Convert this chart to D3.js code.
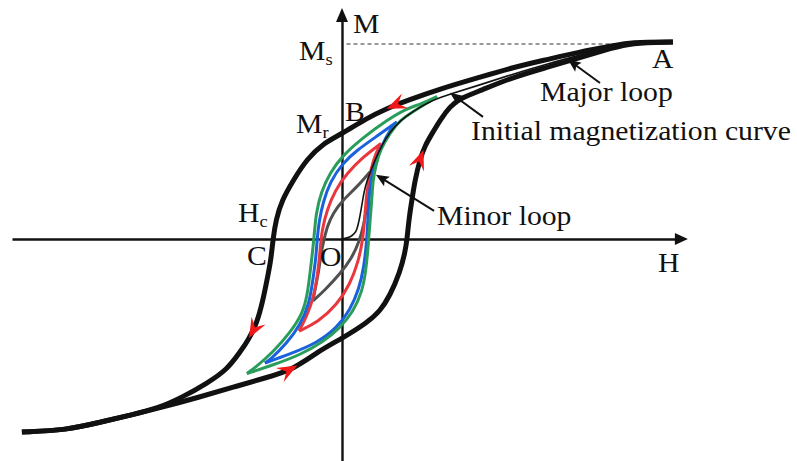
<!DOCTYPE html>
<html>
<head>
<meta charset="utf-8">
<script src="https://cdn.jsdelivr.net/npm/d3@7"></script>
<style>
  body { margin: 0; background: #fff; }
  svg { display: block; }
</style>
</head>
<body>
<svg id="chart" width="797" height="461"></svg>
<script>
// Field H in arbitrary units, magnetization M in units of the saturation value Ms.

// Major loop, descending branch (from A through B and C)
const majorDesc = [
  [11.03, 1.01], [9.6, 1.01], [9.03, 0.99], [7.93, 0.96], [6.83, 0.92], [5.7, 0.88],
  [4.6, 0.83], [3.27, 0.77], [2.17, 0.71], [1.5, 0.67], [0.83, 0.62], [0, 0.54],
  [-0.63, 0.49], [-1.17, 0.41], [-1.63, 0.30], [-2.0, 0.2], [-2.2, 0.1], [-2.3, 0],
  [-2.37, -0.11], [-2.5, -0.21], [-2.63, -0.31], [-2.83, -0.43], [-3.13, -0.52],
  [-3.4, -0.58], [-3.83, -0.67], [-4.5, -0.74], [-5.3, -0.81], [-6.17, -0.87],
  [-6.97, -0.9], [-8.07, -0.94], [-9.17, -0.98], [-10.67, -0.99]
];

// Major loop, ascending branch (back up to A)
const majorAsc = [
  [-10.67, -0.99], [-9.17, -0.98], [-8.07, -0.94], [-6.97, -0.9], [-6.17, -0.87],
  [-4.73, -0.81], [-3.63, -0.76], [-2.5, -0.71], [-1.63, -0.67], [-0.73, -0.57],
  [0, -0.51], [0.83, -0.43], [1.27, -0.37], [1.6, -0.29], [1.93, -0.17], [2.1, -0.07],
  [2.17, 0], [2.23, 0.1], [2.33, 0.2], [2.43, 0.3], [2.6, 0.41], [2.77, 0.48],
  [3.0, 0.54], [3.27, 0.61], [3.6, 0.68], [3.93, 0.72], [4.6, 0.76], [5.7, 0.83],
  [6.83, 0.88], [7.93, 0.93], [9.03, 0.98], [9.6, 1.005], [11.03, 1.01]
];

// Initial magnetization curve from the demagnetized state O
const initialCurve = [
  [0, 0], [0.17, 0.005], [0.33, 0.015], [0.47, 0.036], [0.53, 0.067], [0.6, 0.118],
  [0.67, 0.18], [0.73, 0.24], [0.83, 0.297], [0.97, 0.354], [1.13, 0.415],
  [1.33, 0.482], [1.6, 0.549], [1.93, 0.605], [2.37, 0.656], [3.03, 0.713],
  [3.6, 0.744], [4.6, 0.79], [5.7, 0.846], [6.83, 0.897], [7.93, 0.944], [9.03, 0.985]
];

// Minor loops, each split into its descending and ascending branch
const grayDown = [
  [0.93, 0.344], [0.5, 0.267], [0.03, 0.2], [-0.3, 0.133], [-0.5, 0.062], [-0.6, -0.005],
  [-0.7, -0.072], [-0.77, -0.159], [-0.87, -0.236], [-0.97, -0.318]
];
const grayUp = [
  [-0.97, -0.318], [-0.57, -0.262], [-0.07, -0.18], [0.33, -0.097], [0.57, -0.015],
  [0.73, 0.072], [0.83, 0.174], [0.9, 0.262], [0.93, 0.344]
];
const redDown = [
  [1.3, 0.49], [0.7, 0.42], [0.17, 0.338], [-0.23, 0.25], [-0.5, 0.149], [-0.67, 0.046],
  [-0.73, -0.056], [-0.8, -0.17], [-0.93, -0.292], [-1.17, -0.395], [-1.43, -0.472]
];
const redUp = [
  [-1.43, -0.472], [-0.8, -0.426], [-0.17, -0.338], [0.27, -0.231], [0.53, -0.123],
  [0.7, -0.005], [0.77, 0.133], [0.83, 0.251], [0.97, 0.364], [1.13, 0.441], [1.3, 0.49]
];
const blueDown = [
  [1.83, 0.6], [1.17, 0.528], [0.5, 0.456], [0, 0.385], [-0.4, 0.292], [-0.63, 0.19],
  [-0.77, 0.087], [-0.83, -0.005], [-0.87, -0.097], [-0.97, -0.21], [-1.1, -0.338],
  [-1.4, -0.441], [-1.83, -0.533], [-2.4, -0.62], [-2.57, -0.636]
];
const blueUp = [
  [-2.57, -0.636], [-1.73, -0.59], [-0.83, -0.533], [-0.17, -0.456], [0.27, -0.364],
  [0.57, -0.256], [0.73, -0.144], [0.83, -0.005], [0.87, 0.133], [0.93, 0.277],
  [1.07, 0.38], [1.33, 0.482], [1.6, 0.559], [1.83, 0.6]
];
const greenDown = [
  [3.17, 0.73], [2.6, 0.69], [2.17, 0.67], [1.5, 0.61], [0.7, 0.52], [0.03, 0.43],
  [-0.4, 0.34], [-0.7, 0.24], [-0.87, 0.13], [-0.93, 0.01], [-1.0, -0.09],
  [-1.07, -0.18], [-1.15, -0.28], [-1.3, -0.38], [-1.73, -0.48], [-2.3, -0.58],
  [-2.9, -0.66], [-3.17, -0.69]
];
const greenUp = [
  [-3.17, -0.69], [-2.3, -0.646], [-1.4, -0.595], [-0.63, -0.528], [-0.07, -0.456],
  [0.37, -0.374], [0.67, -0.272], [0.8, -0.159], [0.87, -0.041], [0.93, 0.082],
  [1.0, 0.215], [1.03, 0.3], [1.13, 0.38], [1.27, 0.456], [1.6, 0.544], [1.93, 0.61],
  [2.43, 0.66], [3.17, 0.73]
];

const minorLoops = [
  { name: "gray",  color: "#505050", branches: [grayDown, grayUp] },
  { name: "red",   color: "#e8383d", branches: [redDown, redUp] },
  { name: "blue",  color: "#1a62dc", branches: [blueDown, blueUp] },
  { name: "green", color: "#2a9d5c", branches: [greenDown, greenUp] }
];

// Saturation level
const saturationM = 1;

// Text labels
const axisLabels = { h: "H", m: "M" };
const pointLabels = { a: "A", b: "B", c: "C", o: "O" };
const quantityLabels = [
  { main: "M", sub: "s" },
  { main: "M", sub: "r" },
  { main: "H", sub: "c" }
];
const annotationTexts = ["Major loop", "Initial magnetization curve", "Minor loop"];

// Annotation arrows: [tail, tip] in data units
const annotationArrows = [
  [[8.6, 0.8], [7.53, 0.92]],
  [[4.7, 0.626], [3.6, 0.75]],
  [[3.07, 0.144], [1.13, 0.33]]
];

// ---------------------------------------------------------------------------
const svg = d3.select("#chart");
const x = d3.scaleLinear().domain([-11, 12]).range([12, 702]);
const y = d3.scaleLinear().domain([-1.2, 1.2]).range([473, 5]);

const line = d3.line()
  .x(d => x(d[0]))
  .y(d => y(d[1]))
  .curve(d3.curveBasis);

const INK = "#111";
const SERIF = '"Liberation Serif", "Tinos", "Times New Roman", serif';

// Axes through the origin, no ticks
const hAxisScale = d3.scaleLinear().domain([-11, 11.2]).range([x(-11), x(11.2)]);
const mAxisScale = d3.scaleLinear().domain([-1.2, 1.14]).range([y(-1.2), y(1.14)]);

const hAxis = svg.append("g")
  .attr("transform", `translate(0,${y(0)})`)
  .call(d3.axisBottom(hAxisScale).tickValues([]).tickSizeOuter(0));
const mAxis = svg.append("g")
  .attr("transform", `translate(${x(0)},0)`)
  .call(d3.axisLeft(mAxisScale).tickValues([]).tickSizeOuter(0));
[hAxis, mAxis].forEach(g => g.select(".domain").attr("stroke", INK).attr("stroke-width", 2.4));

function triangle(tx, ty, angleDeg, len, width, notch, fill) {
  const p = `M0,0 L${-len},${-width / 2} L${-len * notch},0 L${-len},${width / 2} Z`;
  svg.append("path")
    .attr("d", p)
    .attr("fill", fill)
    .attr("transform", `translate(${tx},${ty}) rotate(${angleDeg})`);
}
triangle(x(11.53), y(0), 0, 13, 12, 1, INK);
triangle(x(0), y(1.185), -90, 14, 12, 1, INK);

// Dashed saturation level
svg.append("line")
  .attr("x1", x(0.15)).attr("x2", x(9.6))
  .attr("y1", y(saturationM)).attr("y2", y(saturationM))
  .attr("stroke", "#333").attr("stroke-width", 1)
  .attr("stroke-dasharray", "4,3");

// Minor loops
minorLoops.forEach(loop => {
  loop.branches.forEach(b => {
    svg.append("path")
      .attr("class", `minor-${loop.name}`)
      .attr("d", line(b))
      .attr("fill", "none")
      .attr("stroke", loop.color)
      .attr("stroke-width", 3)
      .attr("stroke-linejoin", "round");
  });
});

// Initial magnetization curve
svg.append("path")
  .attr("d", line(initialCurve))
  .attr("fill", "none")
  .attr("stroke", INK)
  .attr("stroke-width", 1.6);

// Major loop
const descPath = svg.append("path")
  .attr("d", line(majorDesc))
  .attr("fill", "none").attr("stroke", INK).attr("stroke-width", 5);
const ascPath = svg.append("path")
  .attr("d", line(majorAsc))
  .attr("fill", "none").attr("stroke", INK).attr("stroke-width", 5);

// Direction arrows along the major loop
function arrowOnPath(pathSel, test) {
  const node = pathSel.node();
  const total = node.getTotalLength();
  for (let l = 0; l <= total; l += 0.5) {
    const p = node.getPointAtLength(l);
    if (test(p)) {
      const q = node.getPointAtLength(Math.max(0, l - 4));
      const ang = Math.atan2(p.y - q.y, p.x - q.x) * 180 / Math.PI;
      triangle(p.x, p.y, ang, 20, 16, 0.62, "#f01818");
      return;
    }
  }
}
arrowOnPath(descPath, p => p.x <= x(1.5));
arrowOnPath(ascPath, p => p.y <= y(0.456));
arrowOnPath(descPath, p => p.y >= y(-0.508));
arrowOnPath(ascPath, p => p.x >= x(-1.5));

// Annotation arrows
annotationArrows.forEach(([tail, tip]) => {
  const x1 = x(tail[0]), y1 = y(tail[1]), x2 = x(tip[0]), y2 = y(tip[1]);
  const ang = Math.atan2(y2 - y1, x2 - x1);
  svg.append("line")
    .attr("x1", x1).attr("y1", y1)
    .attr("x2", x2 - 8 * Math.cos(ang)).attr("y2", y2 - 8 * Math.sin(ang))
    .attr("stroke", INK).attr("stroke-width", 2);
  triangle(x2, y2, ang * 180 / Math.PI, 13, 11, 0.8, INK);
});

// Labels
function label(px, py, main, sub, size = 27.5) {
  const g = svg.append("g").attr("transform", `translate(${px},${py}) scale(1.08,1)`);
  const t = g.append("text")
    .style("font-family", SERIF)
    .style("font-size", size + "px")
    .attr("fill", INK);
  t.append("tspan").text(main);
  if (sub) t.append("tspan").style("font-size", (size * 0.62) + "px").attr("dy", 5).text(sub);
}

const ox = x(0), oy = y(0);
label(ox + 11, y(1.185) + 25, axisLabels.m);
label(x(10.53), oy + 33, axisLabels.h);
label(ox - 43, y(saturationM) + 16, quantityLabels[0].main, quantityLabels[0].sub);
label(ox - 46, y(0.54) - 1, quantityLabels[1].main, quantityLabels[1].sub);
label(ox - 104, oy - 17, quantityLabels[2].main, quantityLabels[2].sub);
label(x(10.33), y(saturationM) + 24, pointLabels.a);
label(ox + 3, y(0.54) - 13, pointLabels.b);
label(ox - 95, oy + 26, pointLabels.c);
label(ox - 22, oy + 27, pointLabels.o);
label(540, 101, annotationTexts[0]);
label(471, 140, annotationTexts[1]);
label(437, 225, annotationTexts[2]);
</script>
</body>
</html>
